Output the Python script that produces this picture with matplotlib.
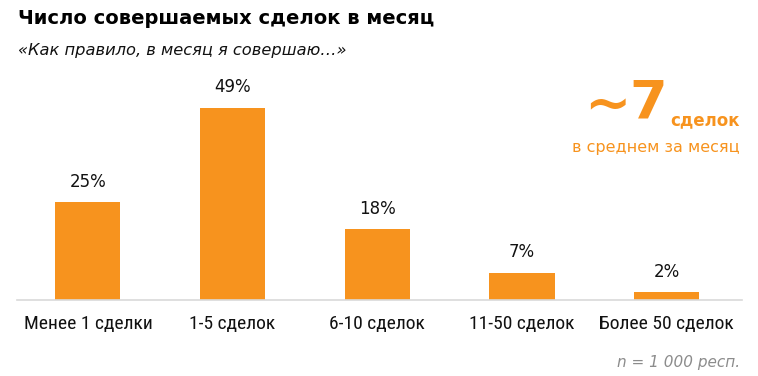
import matplotlib.pyplot as plt

# data
categories = ["Менее 1 сделки", "1-5 сделок", "6-10 сделок", "11-50 сделок", "Более 50 сделок"]
shares = [25, 49, 18, 7, 2]
labels = [f"{v}%" for v in shares]

orange = "#F7931E"

fig = plt.figure(figsize=(7.58, 3.76), dpi=100)
ax = fig.add_axes([17 / 758, 76 / 376, 725 / 758, 216 / 376])

x = range(len(categories))
bars = ax.bar(x, shares, width=0.45, color=orange, zorder=2)
ax.set_xlim(-0.49, 4.52)
ax.set_ylim(0, 55)

for b, lab in zip(bars, labels):
    ax.annotate(lab, (b.get_x() + b.get_width() / 2, b.get_height()),
                xytext=(0, 8), textcoords="offset points",
                ha="center", va="bottom", fontsize=12, color="#111111")

for s in ["top", "right", "left"]:
    ax.spines[s].set_visible(False)
ax.spines["bottom"].set_color("#d9d9d9")
ax.spines["bottom"].set_linewidth(1.2)
ax.set_yticks([])
ax.set_xticks(list(x))
ax.set_xticklabels(categories, fontsize=14,
                   family=["Roboto Condensed", "Roboto", "DejaVu Sans"])
ax.tick_params(axis="x", length=0, pad=11, colors="#111111")

# titles
fig.text(18 / 758, 1 - 18 / 376, "Число совершаемых сделок в месяц",
         fontsize=14, fontweight="bold", va="center", ha="left", color="black")
fig.text(18 / 758, 1 - 50 / 376, "«Как правило, в месяц я совершаю…»",
         fontsize=11.7, style="italic", va="center", ha="left", color="#111111")

# average callout
fig.text(667 / 758, 1 - 104 / 376, "7", fontsize=39, fontweight="bold",
         color=orange, ha="right", va="center")
fig.text(631 / 758, 1 - 106 / 376, "~", fontsize=40, fontweight="bold",
         color=orange, ha="right", va="center")
fig.text(740 / 758, 1 - 120 / 376, "сделок", fontsize=12, fontweight="bold",
         color=orange, ha="right", va="center")
fig.text(740 / 758, 1 - 148 / 376, "в среднем за месяц", fontsize=11.5,
         color=orange, ha="right", va="center")

fig.text(740 / 758, 1 - 362 / 376, "n = 1 000 респ.", fontsize=11,
         style="italic", color="#8c8c8c", ha="right", va="center")

fig.savefig("out.png", dpi=100)
